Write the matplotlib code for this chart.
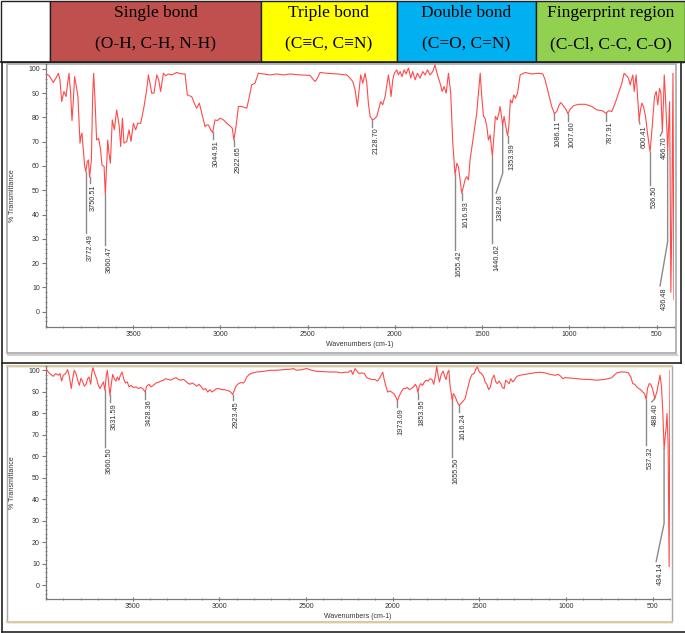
import matplotlib.pyplot as plt
from matplotlib.patches import Rectangle
from matplotlib.ticker import FixedLocator, MultipleLocator
from matplotlib.transforms import offset_copy

plt.rcParams['font.family'] = ['Liberation Sans', 'DejaVu Sans']

# ---- header table ----
header_titles = ['Single bond', 'Triple bond', 'Double bond', 'Fingerprint region']
header_groups = ['(O-H, C-H, N-H)', '(C\u2261C, C\u2261N)', '(C=O, C=N)', '(C-Cl, C-C, C-O)']
header_colors = ['#c0504d', '#ffff00', '#00b0f0', '#92d050']

# ---- spectrum 1 (top) ----
wn1 = [4000, 3981, 3958, 3943, 3929, 3920, 3910, 3897, 3885, 3876, 3868, 3859, 3851, 3843,
       3836, 3826, 3817, 3805, 3800, 3794, 3786, 3778, 3772, 3763, 3757, 3750, 3740, 3732,
       3727, 3719, 3710, 3698, 3687, 3679, 3667, 3660, 3646, 3639, 3631, 3620, 3608, 3595,
       3587, 3580, 3572, 3562, 3553, 3537, 3524, 3513, 3499, 3486, 3474, 3457, 3438, 3423,
       3413, 3404, 3394, 3381, 3365, 3354, 3343, 3327, 3314, 3299, 3279, 3251, 3222, 3203,
       3190, 3178, 3165, 3146, 3136, 3121, 3107, 3088, 3079, 3069, 3056, 3045, 3031, 3018,
       3002, 2983, 2964, 2945, 2932, 2923, 2911, 2897, 2878, 2849, 2834, 2821, 2802, 2783,
       2754, 2716, 2677, 2639, 2601, 2544, 2486, 2467, 2456, 2444, 2429, 2391, 2333, 2276,
       2257, 2242, 2228, 2215, 2205, 2196, 2184, 2171, 2161, 2152, 2142, 2129, 2119, 2104,
       2089, 2081, 2070, 2056, 2047, 2037, 2028, 2022, 2012, 2003, 1989, 1980, 1970, 1959,
       1947, 1936, 1922, 1909, 1898, 1884, 1871, 1856, 1840, 1827, 1813, 1798, 1783, 1770,
       1756, 1741, 1729, 1718, 1706, 1693, 1680, 1668, 1655, 1645, 1636, 1626, 1617, 1607,
       1598, 1588, 1578, 1569, 1550, 1531, 1521, 1511, 1502, 1492, 1483, 1473, 1464, 1454,
       1447, 1441, 1431, 1424, 1414, 1404, 1397, 1389, 1382, 1374, 1364, 1354, 1347, 1338,
       1328, 1318, 1309, 1297, 1282, 1253, 1215, 1177, 1152, 1139, 1120, 1101, 1086, 1072,
       1058, 1049, 1034, 1018, 1008, 995, 976, 948, 909, 871, 843, 814, 788, 776, 757, 737,
       718, 699, 686, 671, 661, 651, 644, 636, 628, 623, 617, 600, 592, 584, 575, 563, 552,
       537, 525, 512, 502, 493, 483, 475, 467, 460, 456, 449, 436, 431, 425, 418, 412, 406,
       400]
t1 = [97.9, 97.1, 94.4, 96.2, 98.2, 95.5, 86.5, 90.7, 88.6, 94.1, 98.2, 90.0, 78.7, 87.2,
      96.8, 92.7, 88.6, 69.4, 72.1, 73.5, 66.6, 59.8, 57.7, 61.8, 62.5, 55.4, 62.5, 90.0,
      98.2, 87.2, 70.7, 71.4, 66.6, 60.4, 59.8, 48.1, 70.7, 65.2, 61.1, 79.0, 74.9, 83.1,
      79.7, 76.2, 68.0, 79.7, 69.4, 70.1, 74.9, 70.1, 77.6, 74.9, 77.6, 77.6, 84.5, 91.3,
      97.5, 94.1, 90.0, 90.0, 97.5, 95.5, 90.7, 98.2, 97.1, 97.9, 97.5, 98.5, 97.9, 97.9,
      89.3, 88.9, 88.6, 85.2, 83.8, 85.9, 81.7, 76.2, 76.9, 76.9, 74.9, 73.8, 79.0, 78.7,
      79.7, 79.0, 77.6, 76.5, 75.5, 70.7, 76.2, 84.5, 84.5, 83.8, 88.6, 93.4, 94.1, 98.2,
      97.9, 97.5, 97.9, 97.5, 97.9, 97.5, 97.3, 95.5, 94.8, 96.2, 98.5, 98.2, 97.9, 97.5,
      96.2, 94.8, 91.3, 84.5, 91.3, 97.5, 94.1, 98.2, 94.1, 85.9, 80.4, 79.0, 79.3, 80.4,
      84.5, 86.5, 85.2, 88.6, 92.7, 97.5, 92.7, 88.6, 95.5, 98.2, 99.6, 97.5, 98.9, 96.8,
      99.6, 97.9, 100.3, 96.2, 98.9, 95.5, 98.2, 96.2, 98.9, 97.5, 99.6, 97.5, 98.9, 101.6,
      97.5, 94.1, 90.7, 92.7, 90.0, 98.2, 90.0, 69.4, 56.3, 61.1, 59.8, 54.3, 48.8, 51.5,
      54.3, 55.6, 54.3, 62.5, 72.1, 81.7, 90.0, 98.2, 88.6, 80.4, 79.7, 76.2, 70.7, 72.8,
      68.0, 63.9, 73.5, 80.4, 79.0, 81.7, 84.5, 80.4, 76.9, 80.4, 76.2, 72.4, 76.2, 87.2,
      85.9, 89.3, 87.9, 90.0, 97.5, 98.5, 97.9, 98.2, 97.9, 95.5, 90.0, 84.5, 81.7, 82.4,
      85.2, 86.1, 84.8, 83.1, 81.5, 83.4, 84.8, 85.4, 85.4, 84.5, 83.1, 82.8, 81.7, 82.8,
      82.4, 85.9, 90.0, 94.1, 98.2, 97.1, 96.2, 93.4, 95.5, 97.5, 90.7, 94.1, 97.5, 79.0,
      83.1, 85.9, 84.5, 80.4, 73.5, 65.9, 76.2, 88.6, 90.7, 85.2, 92.0, 90.0, 74.2, 87.2,
      97.5, 88.6, 66.6, 76.2, 86.5, 8.0, 40.0, 98.2, 5.0]

peaks1_wn = [3772.49, 3750.51, 3660.47, 3044.91, 2922.65, 2128.70, 1655.42, 1616.93, 1440.62,
             1382.08, 1353.99, 1086.11, 1007.60, 787.91, 600.41, 536.50, 466.70, 436.48]
peaks1_t = [57.7, 55.4, 48.1, 73.8, 70.7, 79.0, 56.3, 48.8, 63.9,
            76.9, 72.4, 81.7, 81.5, 81.7, 79.0, 65.9, 74.2, 66.6]
peaks1_lab = [32.3, 52.9, 27.5, 71.0, 68.3, 76.2, 25.4, 46.0, 28.2,
              48.8, 69.6, 79.0, 78.7, 78.7, 77.3, 52.2, 72.4, 10.6]
# leaders that are bent: label -> (bend T, wavenumber where the label sits)
bends1 = {'1382.08': (57.0, 1420), '600.41': (None, 596), '466.70': (None, 479),
          '436.48': (28.8, 480)}

# ---- spectrum 2 (bottom) ----
wn2 = [4000, 3987, 3973, 3958, 3944, 3929, 3919, 3910, 3900, 3887, 3875, 3865, 3854, 3846,
       3837, 3827, 3817, 3808, 3798, 3788, 3779, 3769, 3760, 3752, 3742, 3735, 3729, 3719,
       3708, 3698, 3688, 3679, 3669, 3660, 3652, 3646, 3638, 3631, 3623, 3615, 3606, 3596,
       3588, 3579, 3571, 3561, 3552, 3542, 3531, 3521, 3510, 3496, 3481, 3467, 3454, 3442,
       3428, 3419, 3406, 3394, 3381, 3365, 3352, 3336, 3323, 3310, 3294, 3281, 3265, 3250,
       3236, 3223, 3208, 3194, 3183, 3169, 3156, 3144, 3131, 3117, 3104, 3092, 3079, 3067,
       3054, 3042, 3029, 3015, 3002, 2986, 2971, 2958, 2944, 2933, 2923, 2913, 2904, 2890,
       2877, 2861, 2852, 2842, 2827, 2807, 2784, 2746, 2707, 2669, 2631, 2592, 2573, 2554,
       2525, 2496, 2467, 2438, 2400, 2361, 2323, 2294, 2275, 2255, 2240, 2230, 2217, 2207,
       2194, 2178, 2163, 2150, 2134, 2119, 2102, 2088, 2077, 2067, 2057, 2048, 2038, 2029,
       2015, 2002, 1990, 1980, 1973, 1963, 1951, 1938, 1927, 1915, 1903, 1892, 1880, 1869,
       1861, 1854, 1848, 1838, 1827, 1817, 1807, 1796, 1784, 1773, 1763, 1753, 1746, 1738,
       1730, 1721, 1709, 1700, 1692, 1684, 1676, 1669, 1656, 1650, 1640, 1630, 1621, 1616,
       1603, 1592, 1582, 1573, 1563, 1553, 1542, 1530, 1519, 1511, 1500, 1488, 1476, 1467,
       1457, 1446, 1436, 1426, 1415, 1405, 1396, 1386, 1376, 1367, 1357, 1348, 1338, 1328,
       1319, 1307, 1296, 1284, 1265, 1236, 1207, 1178, 1149, 1121, 1092, 1063, 1044, 1030,
       1019, 1005, 976, 938, 899, 861, 822, 784, 755, 736, 722, 707, 688, 659, 640, 626,
       615, 603, 592, 580, 569, 557, 547, 537, 530, 520, 511, 501, 494, 488, 476, 467, 457,
       449, 442, 434, 422, 417, 411, 405, 400]
t2 = [100.8, 99.2, 98.1, 97.2, 98.5, 97.7, 98.5, 95.0, 97.7, 98.5, 100.3, 96.9, 91.5, 96.1,
      100.0, 98.5, 95.4, 93.0, 96.3, 94.6, 92.6, 93.5, 96.1, 96.9, 93.5, 99.2, 101.2, 98.5,
      96.1, 93.0, 91.5, 93.0, 94.6, 90.7, 97.7, 100.0, 93.8, 88.4, 93.8, 98.1, 96.1, 95.0,
      96.9, 95.4, 97.7, 99.2, 96.1, 94.1, 94.6, 92.3, 93.0, 92.0, 92.3, 91.5, 92.0, 91.5,
      89.9, 92.6, 93.5, 92.3, 93.0, 94.1, 94.4, 95.0, 95.4, 96.1, 95.7, 95.4, 96.1, 96.6,
      95.7, 95.4, 95.8, 95.0, 94.1, 93.5, 94.1, 93.5, 92.6, 93.5, 92.3, 91.0, 91.5, 89.9,
      91.0, 89.9, 90.7, 91.5, 91.5, 91.0, 91.0, 90.7, 90.4, 89.8, 88.7, 90.7, 92.6, 93.8,
      94.3, 94.1, 95.0, 96.9, 98.1, 98.8, 99.2, 99.5, 100.0, 100.0, 100.3, 100.5, 100.8, 100.0,
      100.3, 100.8, 100.0, 99.5, 99.4, 99.2, 99.2, 98.8, 99.1, 99.1, 100.0, 98.1, 100.8, 99.7,
      98.5, 98.8, 98.5, 96.6, 96.1, 95.7, 95.7, 95.0, 96.1, 97.7, 99.1, 95.4, 92.3, 89.9,
      90.4, 89.6, 88.9, 87.3, 85.8, 87.9, 89.9, 91.5, 91.5, 92.0, 91.0, 91.5, 92.3, 93.5,
      92.3, 89.6, 92.3, 93.8, 93.0, 94.6, 95.4, 95.0, 96.1, 95.7, 93.5, 97.7, 101.9, 97.7,
      94.6, 97.7, 99.7, 97.2, 95.7, 98.8, 100.0, 93.0, 85.8, 89.2, 87.9, 85.8, 84.2, 83.7,
      84.8, 85.8, 86.8, 89.9, 93.0, 96.1, 98.1, 98.5, 100.8, 101.5, 99.2, 98.5, 97.2, 94.6,
      93.5, 91.0, 92.3, 96.1, 97.7, 94.6, 93.8, 95.0, 93.8, 92.0, 91.5, 95.4, 94.6, 93.8,
      96.1, 94.6, 95.7, 97.2, 97.7, 98.1, 98.5, 98.9, 99.1, 98.8, 98.1, 97.7, 98.1, 97.2,
      96.1, 96.6, 96.4, 96.1, 95.8, 95.7, 95.4, 95.7, 96.1, 96.6, 97.7, 98.8, 99.2, 99.2, 98.8, 96.9,
      93.8, 93.5, 92.3, 91.5, 91.0, 89.9, 89.2, 86.4, 91.5, 93.8, 93.5, 91.5, 89.2, 86.8, 89.9, 93.8, 97.7,
      92.3, 81.4, 63.6, 73.7, 79.9, 65.9, 8.7, 100.0]

peaks2_wn = [3660.50, 3631.59, 3428.36, 2923.45, 1973.09, 1853.95, 1655.50, 1616.24,
             537.32, 488.40, 434.14]
peaks2_t = [90.7, 88.4, 89.9, 88.7, 85.8, 89.6, 85.8, 83.7, 86.4, 86.8, 63.6]
peaks2_lab = [64.4, 85.3, 86.8, 86.1, 83.0, 86.8, 59.8, 80.7, 65.2, 85.3, 11.0]
bends2 = {'488.40': (None, 505), '434.14': (28.8, 480)}

RED = '#ff4a4a'
GREY = '#8a8a8a'

fig = plt.figure(figsize=(6.85, 6.33), dpi=100)
W, H = 685.0, 633.0

# background in pixel units
bg = fig.add_axes([0, 0, 1, 1])
bg.set_xlim(0, W)
bg.set_ylim(H, 0)
bg.axis('off')

# header cells
edges = [50, 261, 397, 536, 685]
bg.add_patch(Rectangle((1, 0.5), 49, 61.5, facecolor='white', edgecolor='#222222', lw=1))
for i in range(4):
    x0, x1 = edges[i], edges[i + 1]
    bg.add_patch(Rectangle((x0, 0.5), x1 - x0, 61.5, facecolor=header_colors[i],
                           edgecolor='#222222', lw=1))
    xc = (x0 + x1) / 2
    bg.text(xc, 13, header_titles[i], ha='center', va='center', fontsize=12.5,
            family=['Liberation Serif', 'DejaVu Serif'])
    bg.text(xc, 44, header_groups[i], ha='center', va='center', fontsize=12.5,
            family=['Liberation Serif', 'DejaVu Serif'])

# outer table lines
bg.plot([0, W], [62, 62], color='#222222', lw=1.2)
bg.plot([2, 2], [62, 632], color='#222222', lw=1.2)
bg.plot([2, 681], [363, 363], color='#222222', lw=1.2)
bg.plot([2, W], [631.5, 631.5], color='#222222', lw=1.2)
bg.plot([681, 681], [62, 363], color='#222222', lw=1.2)

# screenshot frames
bg.add_patch(Rectangle((7, 64), 669, 289, facecolor='white', edgecolor='#a8a8a8', lw=1.2))
bg.plot([8, 677], [354.5, 354.5], color='#d0d0d0', lw=1.5)
bg.add_patch(Rectangle((7, 366), 665, 256, facecolor='white', edgecolor='#a8a8a8', lw=1.0))
bg.plot([7, 672], [366, 366], color='#d8cc9c', lw=1.5)
bg.plot([7, 672], [622, 622], color='#d8cc9c', lw=1.5)


def px_axes(left, right, top, bottom):
    return fig.add_axes([left / W, 1 - bottom / H, (right - left) / W, (bottom - top) / H])


def style(ax, ylo, yhi):
    ax.set_xlim(4000, 400)
    ax.set_ylim(ylo, yhi)
    ax.patch.set_alpha(0)
    for s in ['top', 'right']:
        ax.spines[s].set_visible(False)
    for s in ['left', 'bottom']:
        ax.spines[s].set_color('#7a7a7a')
        ax.spines[s].set_linewidth(0.9)
    ax.xaxis.set_major_locator(FixedLocator([3500, 3000, 2500, 2000, 1500, 1000, 500]))
    ax.xaxis.set_minor_locator(MultipleLocator(100))
    ax.yaxis.set_major_locator(FixedLocator(range(0, 101, 10)))
    ax.yaxis.set_minor_locator(MultipleLocator(2))
    ax.tick_params(axis='both', which='major', labelsize=5, colors='#7a7a7a',
                   labelcolor='#333333', width=0.8, length=3, pad=1.5)
    ax.tick_params(axis='x', which='major', direction='inout', length=3)
    ax.tick_params(axis='both', which='minor', direction='inout', length=1.5, width=0.6,
                   colors='#7a7a7a')
    ax.set_xlabel('Wavenumbers (cm-1)', fontsize=5, color='#333333', labelpad=2)
    ax.set_ylabel('% Transmittance', fontsize=5, color='#333333', labelpad=9)


def label_peaks(ax, wns, ts, labs, bends):
    shift = offset_copy(ax.transData, fig=fig, x=4, y=-1, units='dots')
    for w, t, lab in zip(wns, ts, labs):
        txt = '%.2f' % w
        bend_t, lab_w = bends.get(txt, (None, w))
        xs, ys = [w], [t]
        if bend_t is not None:
            xs.append(w)
            ys.append(bend_t)
        xs.append(lab_w)
        ys.append(lab)
        ax.plot(xs, ys, color=GREY, lw=1.0, clip_on=False, zorder=1)
        ax.text(lab_w, lab, txt, transform=shift, rotation=90, ha='center', va='top',
                fontsize=5.3, color='#333333', clip_on=False)


ax1 = px_axes(46, 674, 64, 326.7)
style(ax1, -6.2, 102)
ax1.plot(wn1, t1, color=RED, lw=0.8, zorder=3)
label_peaks(ax1, peaks1_wn, peaks1_t, peaks1_lab, bends1)

ax2 = px_axes(46, 670, 366, 599.3)
style(ax2, -6.5, 102)
ax2.plot(wn2, t2, color=RED, lw=0.8, zorder=3)
label_peaks(ax2, peaks2_wn, peaks2_t, peaks2_lab, bends2)

fig.savefig('out.png', dpi=100)
